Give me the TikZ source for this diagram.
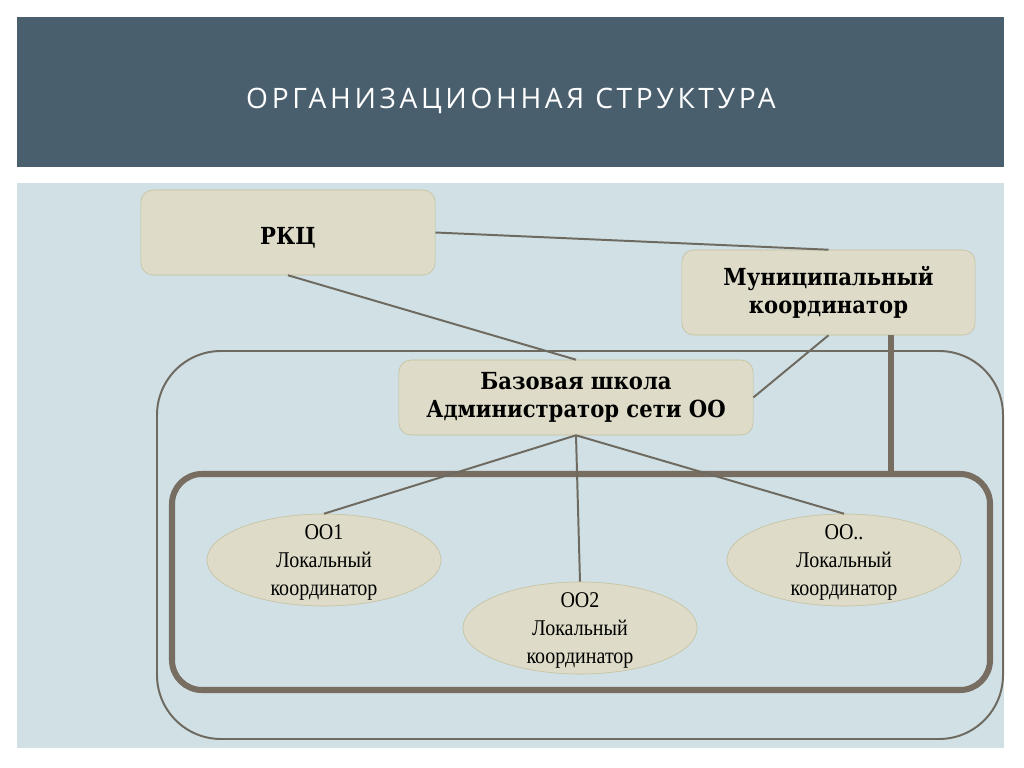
\documentclass[tikz,border=0pt]{standalone}
\usepackage{fontspec}
\setmainfont{Liberation Serif}
\newfontfamily\titlefont[LetterSpace=13]{Open Sans}
\newfontfamily\boxfont{DejaVu Serif Condensed}
\newfontfamily\ovalfont[FakeStretch=0.89]{Liberation Serif}
\usepackage{tikz}
\usetikzlibrary{arrows.meta, positioning, shapes.geometric}

\definecolor{headblue}{HTML}{4A5F6E}
\definecolor{paleblue}{HTML}{D0E0E5}
\definecolor{boxfill}{HTML}{DEDCC8}
\definecolor{boxline}{HTML}{C5BF9A}
\definecolor{linkgray}{HTML}{6F6A60}
\definecolor{framegray}{HTML}{776D61}

\begin{document}
\begin{tikzpicture}[
				x=0.025cm, y=-0.025cm,
				box/.style={draw=boxline, fill=boxfill, rounded corners=0.3cm, align=center, font=\boxfont\bfseries\fontsize{16.7}{19.5}\selectfont},
				oval/.style={draw=boxline, fill=boxfill, ellipse, minimum width=5.85cm, minimum height=2.3cm, inner xsep=0pt, inner ysep=-3pt, text height=1.75cm, text depth=0pt, align=center, font=\ovalfont\fontsize{16}{19.7}\selectfont},
				link/.style={draw=linkgray, line width=1.4pt},
				heavy/.style={draw=framegray, line width=3.6pt}
			]

			% Background and header
			\fill[white] (0,0) rectangle (1024,768);
			\useasboundingbox (0,0) rectangle (1024,768);
			\fill[headblue] (17,17) rectangle (1004,167);
			\fill[paleblue] (17,183) rectangle (1004,748);
			\node[text=white, font=\titlefont\fontsize{20}{24}\selectfont] (title) at (511,101) {ОРГАНИЗАЦИОННАЯ СТРУКТУРА};

			% Frames
			\draw[linkgray, line width=1.4pt, rounded corners=1.6cm] (157,351) rectangle (1003,739);
			\draw[framegray, line width=4.3pt, rounded corners=0.75cm] (172,474) rectangle (990,690);
			\coordinate (tap) at (891,474);

			% Nodes
			\node[box, minimum width=7.35cm, minimum height=2.125cm, text height=0.6cm, text depth=0pt] (rkc) at (288,232.5) {РКЦ};
			\node[box, minimum width=7.33cm, minimum height=2.125cm] (mun) at (828.5,292.5) {Муниципальный\\координатор};
			\node[box, minimum width=8.85cm, minimum height=1.875cm] (baz) at (576,397.5) {Базовая школа\\Администратор сети ОО};
			\node[oval] (oo1) at (324,560) {ОО1\\Локальный\\координатор};
			\node[oval] (oo2) at (580,628) {ОО2\\Локальный\\координатор};
			\node[oval] (oon) at (844,560) {ОО..\\Локальный\\координатор};

			% Links
			\draw[link] (rkc.east) -- (mun.north);
			\draw[link] (rkc.south) -- (baz.north);
			\draw[link] (mun.south) -- (baz.east);
			\draw[heavy] (tap |- mun.south) -- (tap);
			\draw[link] (baz.south) -- (oo1.north);
			\draw[link] (baz.south) -- (oo2.north);
			\draw[link] (baz.south) -- (oon.north);

		\end{tikzpicture}
\end{document}
